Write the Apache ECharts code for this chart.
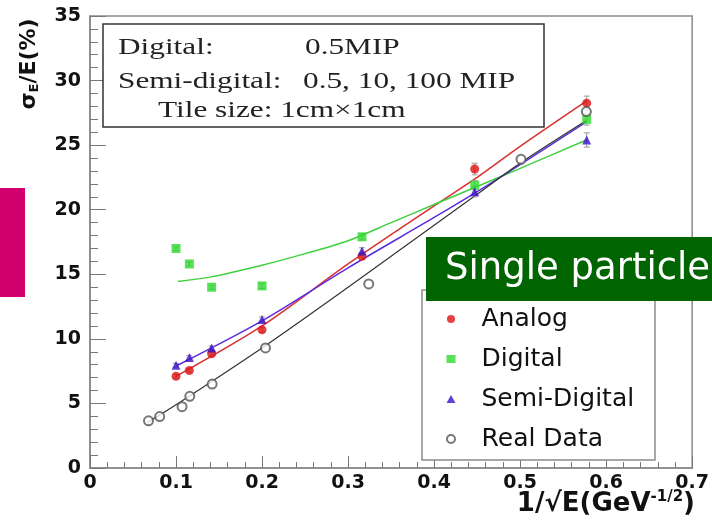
<!DOCTYPE html>
<html>
<head>
<meta charset="utf-8">
<script src="https://cdn.jsdelivr.net/npm/echarts@6/dist/echarts.min.js"></script>
<style>html,body{margin:0;padding:0;background:#fff;}#c{width:712px;height:528px;}</style>
</head>
<body>
<div id="c"></div>
<script>
// ---- data ----
const simX = [0.1, 0.1155, 0.1414, 0.2, 0.3162, 0.4472, 0.5774];
const analog = [7.1, 7.55, 8.85, 10.7, 16.4, 23.15, 28.25];
const digital = [17.0, 15.8, 14.0, 14.1, 17.9, 21.9, 27.0];
const semiDigital = [7.95, 8.55, 9.3, 11.5, 16.8, 21.4, 25.4];
const analogErr = [0.15, 0.15, 0.15, 0.2, 0.25, 0.45, 0.55];
const digitalErr = [0.15, 0.15, 0.15, 0.2, 0.25, 0.35, 0.45];
const semiErr = [0.15, 0.15, 0.15, 0.2, 0.25, 0.4, 0.55];
const realX = [0.068, 0.081, 0.107, 0.116, 0.142, 0.204, 0.324, 0.501, 0.577];
const realY = [3.65, 3.98, 4.75, 5.55, 6.5, 9.3, 14.25, 23.9, 27.6];

const analogFitX = [0.1, 0.2, 0.3, 0.4, 0.45, 0.5, 0.577];
const analogFitY = [7.1, 11.0, 15.8, 20.3, 22.5, 24.9, 28.4];
const semiFitX = [0.1, 0.2, 0.3, 0.4, 0.45, 0.5, 0.577];
const semiFitY = [7.9, 11.4, 15.5, 19.4, 21.4, 23.5, 26.8];
const realFitX = [0.066, 0.1, 0.2, 0.3, 0.4, 0.45, 0.5, 0.577];
const realFitY = [3.5, 4.9, 9.3, 14.0, 18.8, 21.2, 23.6, 26.9];
const digitalFitX = [0.102, 0.141, 0.2, 0.25, 0.3, 0.35, 0.4, 0.45, 0.5, 0.577];
const digitalFitY = [14.45, 14.8, 15.7, 16.6, 17.6, 19.0, 20.4, 21.8, 23.2, 25.4];

const seriesNames = ['Analog', 'Digital', 'Semi-Digital', 'Real Data'];
const xTicks = { min: 0, max: 0.7, step: 0.1 };
const yTicks = { min: 0, max: 35, step: 5 };
const infoLines = [['Digital:', '0.5MIP'], ['Semi-digital:', '0.5, 10, 100 MIP'], ['Tile size: 1cm\u00d71cm', '']];
const bannerText = 'Single particle';

// ---- helpers ----
const zip = (xs, ys) => xs.map((x, i) => [x, ys[i]]);
const zipErr = (xs, ys, es) => xs.map((x, i) => [x, ys[i], es[i]]);

function errSeries(data, color) {
  return {
    type: 'custom', silent: true, z: 3,
    data: data,
    renderItem: function (params, api) {
      const x = api.value(0), y = api.value(1), e = api.value(2);
      const top = api.coord([x, y + e]);
      const bot = api.coord([x, y - e]);
      const cap = 3;
      return {
        type: 'group',
        children: [
          { type: 'line', shape: { x1: top[0], y1: top[1], x2: bot[0], y2: bot[1] }, style: { stroke: color, lineWidth: 1 } },
          { type: 'line', shape: { x1: top[0] - cap, y1: top[1], x2: top[0] + cap, y2: top[1] }, style: { stroke: color, lineWidth: 1 } },
          { type: 'line', shape: { x1: bot[0] - cap, y1: bot[1], x2: bot[0] + cap, y2: bot[1] }, style: { stroke: color, lineWidth: 1 } }
        ]
      };
    }
  };
}

const chart = echarts.init(document.getElementById('c'), null, { renderer: 'canvas' });

const tickFont = { fontFamily: 'DejaVu Sans', fontWeight: 'bold', fontSize: 19, color: '#111' };
const serif = 'Liberation Serif';
const infoFont = '23px ' + serif;
const infoScale = 1.36;

const option = {
  animation: false,
  backgroundColor: '#fff',
  grid: { left: 90, right: 19, top: 16, bottom: 60, show: true, borderColor: '#8a8a8a', borderWidth: 1.5, backgroundColor: 'transparent' },
  xAxis: {
    type: 'value', min: xTicks.min, max: xTicks.max, interval: xTicks.step,
    axisLine: { show: true, onZero: false, lineStyle: { color: '#8a8a8a', width: 1.5 } },
    axisTick: { show: true, inside: true, length: 12, lineStyle: { color: '#777' } },
    minorTick: { show: true, splitNumber: 5, length: 6, lineStyle: { color: '#777' } },
    splitLine: { show: false },
    axisLabel: Object.assign({ margin: 6, formatter: v => (Math.round(v * 10) / 10).toString() }, tickFont)
  },
  yAxis: {
    type: 'value', min: yTicks.min, max: yTicks.max, interval: yTicks.step,
    axisLine: { show: true, lineStyle: { color: '#8a8a8a', width: 1.5 } },
    axisTick: { show: true, inside: true, length: 16, lineStyle: { color: '#777' } },
    minorTick: { show: true, splitNumber: 5, length: 8, lineStyle: { color: '#777' } },
    splitLine: { show: false },
    axisLabel: Object.assign({ margin: 9 }, tickFont)
  },
  legend: {
    data: seriesNames,
    orient: 'vertical', left: 446, top: 304,
    itemWidth: 9, itemHeight: 8, itemGap: 10, padding: 0,
    textStyle: { fontFamily: 'DejaVu Sans', fontSize: 25, color: '#111', lineHeight: 30, padding: [0, 0, 0, 21] },
    z: 5
  },
  series: [
    { name: 'Analog fit', type: 'line', data: zip(analogFitX, analogFitY), showSymbol: false, smooth: 0.3, lineStyle: { color: '#d93030', width: 1.5 }, silent: true, z: 2 },
    { name: 'Digital fit', type: 'line', data: zip(digitalFitX, digitalFitY), showSymbol: false, smooth: 0.3, lineStyle: { color: '#3fcf3f', width: 1.5 }, silent: true, z: 2 },
    { name: 'Semi-Digital fit', type: 'line', data: zip(semiFitX, semiFitY), showSymbol: false, smooth: 0.3, lineStyle: { color: '#5a2ee0', width: 1.5 }, silent: true, z: 2 },
    { name: 'Real Data fit', type: 'line', data: zip(realFitX, realFitY), showSymbol: false, smooth: 0.3, lineStyle: { color: '#333333', width: 1.2 }, silent: true, z: 2 },
    errSeries(zipErr(simX, analog, analogErr), '#999'),
    errSeries(zipErr(simX, digital, digitalErr), '#999'),
    errSeries(zipErr(simX, semiDigital, semiErr), '#999'),
    { name: 'Analog', type: 'scatter', data: zip(simX, analog), symbol: 'circle', symbolSize: 9, itemStyle: { color: '#dd1111' }, z: 4 },
    { name: 'Digital', type: 'scatter', data: zip(simX, digital), symbol: 'rect', symbolSize: 9, itemStyle: { color: '#2edb2e' }, z: 4 },
    { name: 'Semi-Digital', type: 'scatter', data: zip(simX, semiDigital), symbol: 'triangle', symbolSize: 9, itemStyle: { color: '#3a10c8' }, z: 4 },
    { name: 'Real Data', type: 'scatter', data: zip(realX, realY), symbol: 'emptyCircle', symbolSize: 9, itemStyle: { color: '#555', borderWidth: 1.3 }, z: 4 }
  ],
  graphic: [
    // pink side tab
    { type: 'rect', left: 0, top: 188, shape: { width: 25, height: 109 }, style: { fill: '#d2006e' }, z: 10 },
    // info box
    { type: 'rect', x: 103, y: 24, shape: { width: 441, height: 103 }, style: { fill: '#fff', stroke: '#333', lineWidth: 1.5 }, z: 10 },
    { type: 'text', x: 118, y: 48, scaleX: infoScale, style: { text: infoLines[0][0], font: infoFont, fill: '#222', verticalAlign: 'middle' }, z: 11 },
    { type: 'text', x: 305, y: 48, scaleX: infoScale, style: { text: infoLines[0][1], font: infoFont, fill: '#222', verticalAlign: 'middle' }, z: 11 },
    { type: 'text', x: 118, y: 82, scaleX: infoScale, style: { text: infoLines[1][0], font: infoFont, fill: '#222', verticalAlign: 'middle' }, z: 11 },
    { type: 'text', x: 303, y: 82, scaleX: infoScale, style: { text: infoLines[1][1], font: infoFont, fill: '#222', verticalAlign: 'middle' }, z: 11 },
    { type: 'text', x: 158, y: 111, scaleX: infoScale, style: { text: infoLines[2][0], font: infoFont, fill: '#222', verticalAlign: 'middle' }, z: 11 },
    // legend frame
    { type: 'rect', x: 422, y: 290, shape: { width: 233, height: 170 }, style: { fill: '#fff', stroke: '#8a8a8a', lineWidth: 1.5 }, z: 3 },
    // banner
    { type: 'rect', x: 426, y: 237, shape: { width: 300, height: 64 }, style: { fill: '#006400' }, z: 20 },
    { type: 'text', x: 445, y: 269, style: { text: bannerText, font: '37px "DejaVu Sans"', fill: '#fff', verticalAlign: 'middle' }, z: 21 },
    // y-axis title
    { type: 'text', x: 29, y: 64, rotation: Math.PI / 2,
      style: { text: '{a|\u03c3}{b|E}{a|/E(%)}', align: 'center', verticalAlign: 'middle',
        rich: { a: { fontFamily: 'DejaVu Sans', fontWeight: 'bold', fontSize: 22, fill: '#111', lineHeight: 26 },
                b: { fontFamily: 'DejaVu Sans', fontWeight: 'bold', fontSize: 13, fill: '#111', lineHeight: 26, padding: [12, 0, 0, 0] } } }, z: 11 },
    // x-axis title
    { type: 'text', x: 695, y: 504,
      style: { text: '{a|1/\u221aE(GeV}{s|-1/2}{a|)}', align: 'right', verticalAlign: 'middle',
        rich: { a: { fontFamily: 'DejaVu Sans', fontWeight: 'bold', fontSize: 26, fill: '#111', lineHeight: 32 },
                s: { fontFamily: 'DejaVu Sans', fontWeight: 'bold', fontSize: 15, fill: '#111', lineHeight: 32, padding: [0, 0, 14, 0] } } }, z: 11 }
  ]
};
chart.setOption(option);
</script>
</body>
</html>
